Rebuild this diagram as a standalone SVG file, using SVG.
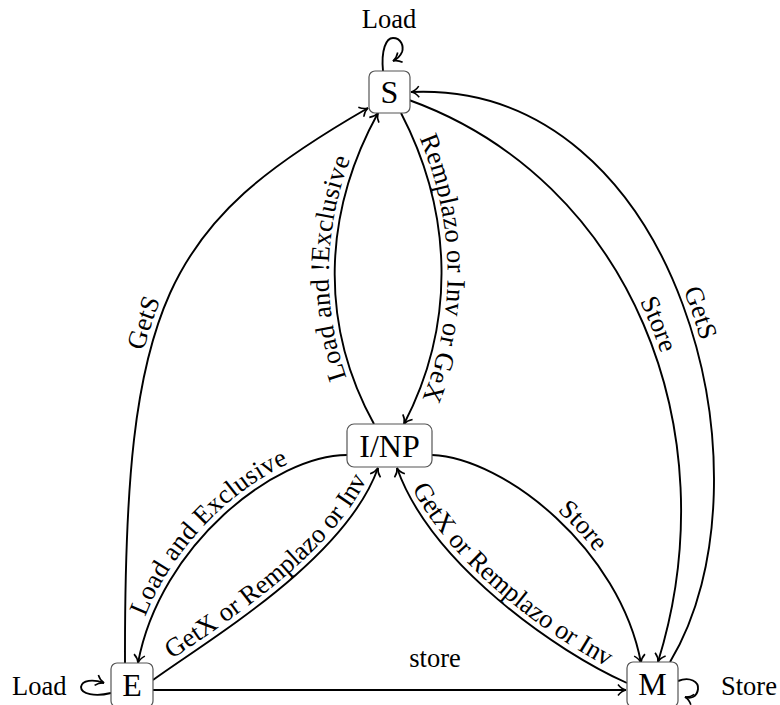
<svg xmlns="http://www.w3.org/2000/svg" xmlns:xlink="http://www.w3.org/1999/xlink" width="780" height="705" viewBox="0 0 780 705">
  <style>
    .node rect { fill: #fff; stroke: #555; stroke-width: 1.2; }
    .node text { font-family: "Liberation Serif", "Times New Roman", serif; font-size: 32px; text-anchor: middle; fill: #000; }
    .edge { fill: none; stroke: #000; stroke-width: 1.9; }
    .lbl { font-family: "Liberation Serif", "Times New Roman", serif; font-size: 26.5px; fill: #000; }
  </style>
  <defs>
    <marker id="arr" viewBox="-10 -7 12 14" refX="0" refY="0" markerWidth="12" markerHeight="14" markerUnits="userSpaceOnUse" orient="auto">
      <path d="M-8,-5.5 C-5.5,-2.2 -2.2,-0.5 0,0 C-2.2,0.5 -5.5,2.2 -8,5.5" fill="none" stroke="#000" stroke-width="1.6"/>
    </marker>
    <!-- reversed paths used only for label placement (reading direction) -->
    <path id="t-le" d="M138,663 C160,545 275,455 347,455"/>
    <path id="t-gxr" d="M397,468 C431,564 557,652 627,683"/>
    <path id="t-getsr" d="M410,92 C680,80 780,480 670,662"/>
  </defs>

  <rect width="780" height="705" fill="#fff"/>

  <g id="connectors">
    <!-- E -> S : GetS -->
    <path id="e-gets-l" class="edge" d="M125,663 C124,300 165,225 368,108" marker-end="url(#arr)"/>
    <!-- I/NP -> S : Load and !Exclusive -->
    <path id="e-lne" class="edge" d="M374,424 C319,324 323,213 378,113" marker-end="url(#arr)"/>
    <!-- S -> I/NP : Remplazo or Inv or GeX -->
    <path id="e-rig" class="edge" d="M401,113 C453,213 456,324 404,424" marker-end="url(#arr)"/>
    <!-- I/NP -> E : Load and Exclusive -->
    <path class="edge" d="M347,455 C275,455 160,545 138,663" marker-end="url(#arr)"/>
    <!-- E -> I/NP : GetX or Remplazo or Inv -->
    <path id="e-gxl" class="edge" d="M153,680 C208,640 345,560 378,468" marker-end="url(#arr)"/>
    <!-- I/NP -> M : Store -->
    <path id="e-store-m" class="edge" d="M432,455 C505,458 620,550 641,663" marker-end="url(#arr)"/>
    <!-- M -> I/NP : GetX or Remplazo or Inv -->
    <path class="edge" d="M627,683 C557,652 431,564 397,468" marker-end="url(#arr)"/>
    <!-- S -> M : Store -->
    <path id="e-store-r" class="edge" d="M409,100 C630,180 730,430 658,662" marker-end="url(#arr)"/>
    <!-- M -> S : GetS -->
    <path class="edge" d="M670,662 C780,480 680,80 411,92" marker-end="url(#arr)"/>
    <!-- E -> M : store -->
    <path class="edge" d="M153,690 L626,690" marker-end="url(#arr)"/>
    <!-- self loops -->
    <path class="edge" d="M383,71 C381,50 386,38 393,38 C401,38 404,46 402,52 C400,57 397,59 393,61" marker-end="url(#arr)"/>
    <path class="edge" d="M111,693 C95,697 81,694 81,687 C82,680 93,679 104,683" marker-end="url(#arr)"/>
    <path class="edge" d="M678,681 C690,676 699,682 698,689 C697,697 691,699 685,697" marker-end="url(#arr)"/>

    <!-- edge labels -->
    <text class="lbl"><textPath href="#e-gets-l" startOffset="52%" text-anchor="middle"><tspan dy="-6">GetS</tspan></textPath></text>
    <text class="lbl"><textPath href="#e-lne" startOffset="50%" text-anchor="middle"><tspan dy="-6">Load and !Exclusive</tspan></textPath></text>
    <text class="lbl"><textPath href="#e-rig" startOffset="50%" text-anchor="middle"><tspan dy="-6">Remplazo or Inv or GeX</tspan></textPath></text>
    <text class="lbl"><textPath href="#t-le" startOffset="48%" text-anchor="middle"><tspan dy="-6">Load and Exclusive</tspan></textPath></text>
    <text class="lbl"><textPath href="#e-gxl" startOffset="52%" text-anchor="middle"><tspan dy="-6">GetX or Remplazo or Inv</tspan></textPath></text>
    <text class="lbl"><textPath href="#e-store-m" startOffset="53%" text-anchor="middle"><tspan dy="-6">Store</tspan></textPath></text>
    <text class="lbl"><textPath href="#t-gxr" startOffset="50%" text-anchor="middle"><tspan dy="-6">GetX or Remplazo or Inv</tspan></textPath></text>
    <text class="lbl"><textPath href="#e-store-r" startOffset="50%" text-anchor="middle"><tspan dy="-6">Store</tspan></textPath></text>
    <text class="lbl"><textPath href="#t-getsr" startOffset="52%" text-anchor="middle"><tspan dy="-6">GetS</tspan></textPath></text>
    <text class="lbl" x="435" y="667" text-anchor="middle">store</text>
    <text class="lbl" x="389" y="28" text-anchor="middle">Load</text>
    <text class="lbl" x="12" y="695">Load</text>
    <text class="lbl" x="721" y="695">Store</text>
  </g>

  <g id="node-S" class="node">
    <rect x="369" y="71" width="41" height="42" rx="6"/>
    <text x="389.5" y="102.5">S</text>
  </g>
  <g id="node-INP" class="node">
    <rect x="347" y="424" width="85" height="43" rx="7"/>
    <text x="389.5" y="457">I/NP</text>
  </g>
  <g id="node-E" class="node">
    <rect x="111" y="663" width="42" height="44" rx="6"/>
    <text x="132" y="696">E</text>
  </g>
  <g id="node-M" class="node">
    <rect x="627" y="662" width="51" height="45" rx="6"/>
    <text x="652.5" y="695">M</text>
  </g>
</svg>
